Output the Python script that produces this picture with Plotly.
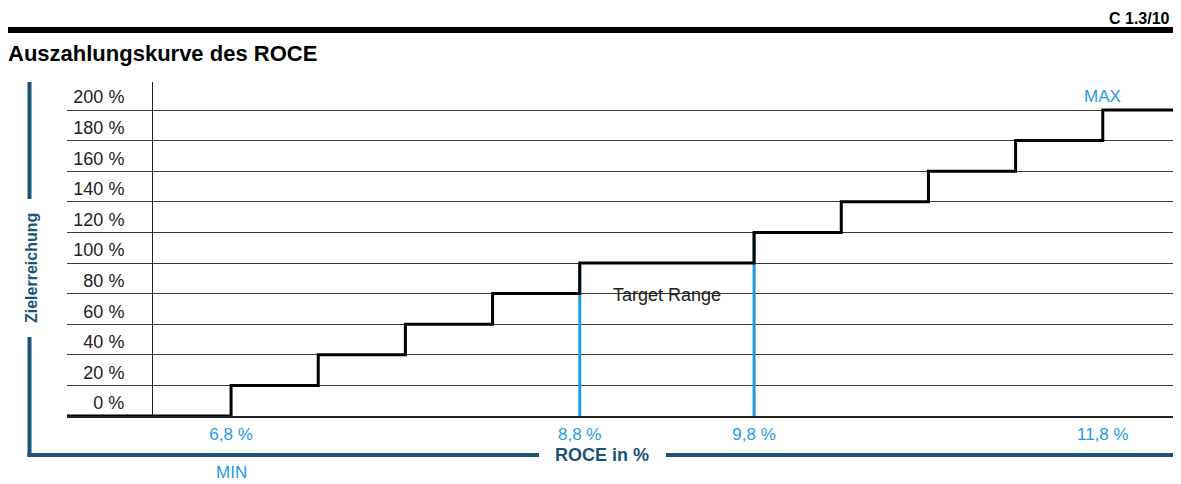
import plotly.graph_objects as go

# ---- data ----
roce_thresholds = [6.8, 7.3, 7.8, 8.3, 8.8, 9.8, 10.3, 10.8, 11.3, 11.8]
payout_levels = [20, 40, 60, 80, 100, 120, 140, 160, 180, 200]
target_low, target_high = 8.8, 9.8
x_tick_vals = [6.8, 8.8, 9.8, 11.8]
x_tick_text = ["6,8 %", "8,8 %", "9,8 %", "11,8 %"]
y_tick_vals = [0, 20, 40, 60, 80, 100, 120, 140, 160, 180, 200]
y_tick_text = [f"{v} %" for v in y_tick_vals]

# ---- layout constants ----
OFF = 8  # page body margin
W, H = 1181 - OFF, 484 - OFF
L, T = 67 - OFF, 82 - OFF
R = W - (1176 - OFF)
B = H - (416 - OFF)
X_RANGE = [5.859, 12.22]
Y_RANGE = [0, 218.3]
DARK_BLUE = "#1b5479"
LIGHT_BLUE = "#1e9be2"
FONT = "Liberation Sans, Arial, Helvetica, sans-serif"

PW, PH = W - L - R, H - T - B


def px(x):
    """reference-screen x pixel -> paper fraction"""
    return (x - OFF - L) / PW


def py(y):
    """reference-screen y pixel -> paper fraction"""
    return (H - B - (y - OFF)) / PH


fig = go.Figure()

# target range blue verticals (payout level reached at each bound)
for xv in (target_low, target_high):
    lvl = payout_levels[roce_thresholds.index(xv)]
    fig.add_trace(go.Scatter(x=[xv, xv], y=[0, lvl], mode="lines",
                             line=dict(color=LIGHT_BLUE, width=3),
                             hoverinfo="skip", showlegend=False))

# step payout curve
step_x = [X_RANGE[0]] + roce_thresholds + [X_RANGE[1]]
step_y = [0] + payout_levels + [payout_levels[-1]]
fig.add_trace(go.Scatter(x=step_x, y=step_y, mode="lines", line_shape="hv",
                         line=dict(color="black", width=3),
                         hoverinfo="skip", showlegend=False))

shapes = []
# top thick rule
shapes.append(dict(type="line", xref="paper", yref="paper",
                   x0=px(8), x1=px(1178), y0=py(30), y1=py(30),
                   line=dict(color="black", width=6)))
# blue bracket: left vertical (two parts) and bottom horizontal (two parts)
bl = dict(color=DARK_BLUE, width=4)
shapes.append(dict(type="line", xref="paper", yref="paper",
                   x0=px(29.5), x1=px(29.5), y0=py(82), y1=py(199), line=bl))
shapes.append(dict(type="line", xref="paper", yref="paper",
                   x0=px(29.5), x1=px(29.5), y0=py(337), y1=py(457), line=bl))
shapes.append(dict(type="line", xref="paper", yref="paper",
                   x0=px(27.5), x1=px(539), y0=py(455), y1=py(455), line=bl))
shapes.append(dict(type="line", xref="paper", yref="paper",
                   x0=px(666), x1=px(1178), y0=py(455), y1=py(455), line=bl))

annotations = [
    dict(text="<b>C 1.3/10</b>", xref="paper", yref="paper", x=px(1172), y=py(18),
         xanchor="right", yanchor="middle", showarrow=False,
         font=dict(family=FONT, size=16, color="black")),
    dict(text="<b>Auszahlungskurve des ROCE</b>", xref="paper", yref="paper",
         x=px(6), y=py(53), xanchor="left", yanchor="middle", showarrow=False,
         font=dict(family=FONT, size=22, color="black")),
    dict(text="<b>Zielerreichung</b>", xref="paper", yref="paper", x=px(31), y=py(268),
         xanchor="center", yanchor="middle", textangle=-90, showarrow=False,
         font=dict(family=FONT, size=16, color=DARK_BLUE)),
    dict(text="<b>ROCE in %</b>", xref="paper", yref="paper", x=px(602), y=py(455),
         xanchor="center", yanchor="middle", showarrow=False,
         font=dict(family=FONT, size=18, color=DARK_BLUE)),
    dict(text="MIN", xref="x", yref="paper", x=roce_thresholds[0], y=py(472),
         xanchor="center", yanchor="middle", showarrow=False,
         font=dict(family=FONT, size=17, color=LIGHT_BLUE)),
    dict(text="MAX", xref="x", yref="y", x=roce_thresholds[-1], y=payout_levels[-1],
         xanchor="center", yanchor="bottom", yshift=2, showarrow=False,
         font=dict(family=FONT, size=17, color=LIGHT_BLUE)),
    dict(text="Target Range", xref="x", yref="y", x=(target_low + target_high) / 2,
         y=payout_levels[roce_thresholds.index(target_low)], xanchor="center",
         yanchor="top", yshift=-20, showarrow=False,
         font=dict(family=FONT, size=18, color="#222222")),
]

fig.update_layout(
    width=W, height=H,
    margin=dict(l=L, r=R, t=T, b=B, pad=0),
    paper_bgcolor="white", plot_bgcolor="white",
    shapes=shapes, annotations=annotations,
    xaxis=dict(range=X_RANGE, tickmode="array", tickvals=x_tick_vals,
               ticktext=x_tick_text, showgrid=False, zeroline=False,
               showline=True, linecolor="#222222", linewidth=1.5,
               ticks="", ticklabelstandoff=2,
               tickfont=dict(family=FONT, size=17, color=LIGHT_BLUE)),
    yaxis=dict(range=Y_RANGE, tickmode="array", tickvals=y_tick_vals,
               ticktext=y_tick_text, showgrid=True, gridcolor="#3a3a3a",
               gridwidth=1, zeroline=False, showline=True, linecolor="#222222",
               linewidth=1, anchor="free", position=px(152), ticks="",
               ticklabelstandoff=24, ticklabelshift=-13,
               tickfont=dict(family=FONT, size=18, color="#222222")),
)

fig.write_html("out.html")
